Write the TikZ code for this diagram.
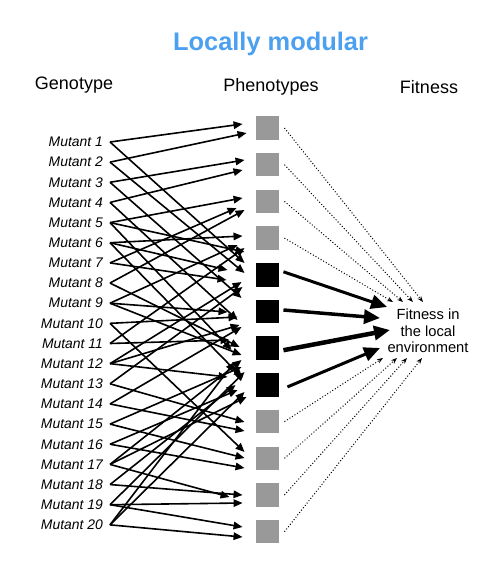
\documentclass[tikz,border=0pt]{standalone}
\usepackage{fontspec}
\setmainfont{Liberation Sans}
\usetikzlibrary{arrows.meta,calc}
\definecolor{titleblue}{RGB}{75,160,240}
\definecolor{phgray}{RGB}{153,153,153}
\begin{document}
\begin{tikzpicture}[x=1pt,y=-1pt,
  mut/.style={anchor=east,font=\fontsize{13.9}{15}\selectfont\itshape,inner sep=0pt},
  head/.style={font=\fontsize{18}{20}\selectfont,inner sep=0pt},
  sq/.style={minimum size=23.5pt,inner sep=0pt,draw=none},
  greysq/.style={sq,fill=phgray},
  blacksq/.style={sq,fill=black},
  conn/.style={line width=1.6pt,-{Triangle[length=9pt,width=7.5pt]}},
  dots/.style={line width=1pt,dash pattern=on 1pt off 2pt,-{Stealth[length=6pt,width=4.5pt]}},
  fitarr/.style={-{Triangle[length=16pt,width=14pt]}}]
\useasboundingbox (0,0) rectangle (492,564);
\node[font=\fontsize{25.4}{28}\selectfont\bfseries,text=titleblue] (title) at (270.5,44) {Locally modular};
\node[head] (geno) at (74,85) {Genotype};
\node[head] (pheno) at (271,87) {Phenotypes};
\node[head] (fitn) at (429,87) {Fitness};
% phenotype squares
\foreach \j/\c in {1/128,2/164.7,3/201.4,4/238.1,9/421.6,10/458.3,11/495,12/531.7}
  \node[greysq] (g\j) at (267.5,\c) {};
\foreach \j/\c in {5/274.8,6/311.5,7/348.2,8/384.9}
  \node[blacksq] (g\j) at (267.5,\c) {};
% mutants
\foreach \i in {1,...,20}{
  \pgfmathsetmacro\yy{142+(\i-1)*20.15}
  \node[mut] (m\i) at (103,\yy) {Mutant \i};
  \coordinate (s\i) at (110,\yy);
}
% fitness
\node[font=\fontsize{14.7}{16.5}\selectfont,align=center,inner sep=0pt] (fit) at (428,331) {Fitness in\\the local\\environment};
% genotype -> phenotype arrows
\foreach \m/\g/\dx/\ty in {
  1/1/-13/124, 1/5/-11/263,
  2/1/-9/133, 2/5/-11/273,
  3/2/-11/160, 3/6/-14/298,
  4/2/-13/170, 4/6/-18/320,
  5/3/-13/198, 5/4/-11/252, 5/7/-24/350,
  6/4/-13/236, 6/5/-28/270, 6/8/-13/378,
  7/3/-19/208, 7/5/-29/280,
  8/3/-11/210, 8/7/-16/347,
  9/4/-18/245, 9/6/-28/312, 9/7/-14/355,
  10/6/-18/317, 10/10/-11/452,
  11/4/-11/248, 11/7/-26/340,
  12/5/-14/282, 12/6/-16/325, 12/8/-28/377,
  13/5/-13/287, 13/9/-11/422,
  14/6/-14/327, 14/9/-11/431,
  15/8/-14/367, 15/10/-11/458,
  16/8/-18/390, 16/10/-11/468,
  17/8/-9/397, 17/7/-14/360, 17/11/-26/497,
  18/8/-20/385, 18/11/-13/495,
  19/8/-11/372, 19/11/-13/503, 19/12/-13/527,
  20/8/-11/392, 20/7/-21/362, 20/12/-13/537}
  \draw[conn] (s\m) -- ($(g\g.west |- 0,\ty)+(\dx,0)$);
% dotted arrows from grey phenotypes
\foreach \g/\ox/\oy in {1/-5/-29, 2/-15/-29, 3/-25/-29, 4/-35/-29,
  9/-45/27, 10/-31/27, 11/-21/27, 12/-6/27}
  \draw[dots] ($(g\g.east)+(5,0)$) -- ($(fit.center)+(\ox,\oy)$);
% thick arrows from black phenotypes
\draw[fitarr,line width=3pt] ($(g5.east)+(4,-3)$) -- ($(fit.center)+(-41,-24)$);
\draw[fitarr,line width=3.5pt] ($(g6.east)+(4,-1.5)$) -- ($(fit.center)+(-48,-13)$);
\draw[fitarr,line width=4.5pt] ($(g7.east)+(4,2)$) -- ($(fit.center)+(-38,-1)$);
\draw[fitarr,line width=3pt] ($(g8.east)+(8,2)$) -- ($(fit.center)+(-48,17)$);
\end{tikzpicture}
\end{document}
